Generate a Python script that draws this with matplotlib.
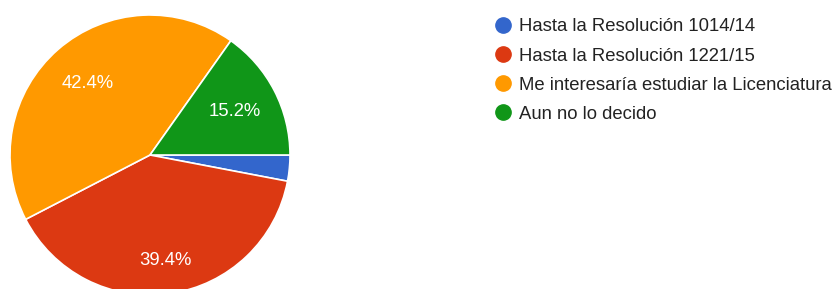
import numpy as np
import matplotlib.pyplot as plt
from matplotlib.lines import Line2D

plt.rcParams['font.family'] = ['Liberation Sans', 'DejaVu Sans']

labels = ['Hasta la Resolución 1014/14', 'Hasta la Resolución 1221/15',
          'Me interesaría estudiar la Licenciatura', 'Aun no lo decido']
shares = [3.0, 39.4, 42.4, 15.2]
colors = ['#3366CC', '#DC3912', '#FF9900', '#109618']

W, H = 838, 289
fig = plt.figure(figsize=(W / 100, H / 100), dpi=100)

# pie centre ~(150,155) px, radius ~140 px
cx, cy, r = 150, 155, 140
ax = fig.add_axes([(cx - r) / W, (H - cy - r) / H, 2 * r / W, 2 * r / H])
wedges, texts, autotexts = ax.pie(
    shares, colors=colors, startangle=0, counterclock=False,
    autopct=lambda p: '' if p < 5 else '%.1f%%' % p, pctdistance=0.68,
    wedgeprops=dict(edgecolor='white', linewidth=1.2),
    textprops=dict(color='white', fontsize=13.3), radius=1)
# the big red label sits a bit further out
x, y = autotexts[1].get_position()
autotexts[1].set_position((x * 1.12, y * 1.12))
ax.set_xlim(-1, 1)
ax.set_ylim(-1, 1)
ax.set_aspect('equal')
ax.axis('off')

handles = [Line2D([], [], marker='o', linestyle='', markersize=11,
                  markerfacecolor=c, markeredgecolor=c) for c in colors]
fig.legend(handles, labels, loc='upper left',
           bbox_to_anchor=(487 / W, 1 - 11 / H), frameon=False,
           fontsize=13.3, labelcolor='#222222', handletextpad=0.42,
           labelspacing=0.66, handlelength=0.9, borderaxespad=0)

fig.savefig('out.png', dpi=100)
